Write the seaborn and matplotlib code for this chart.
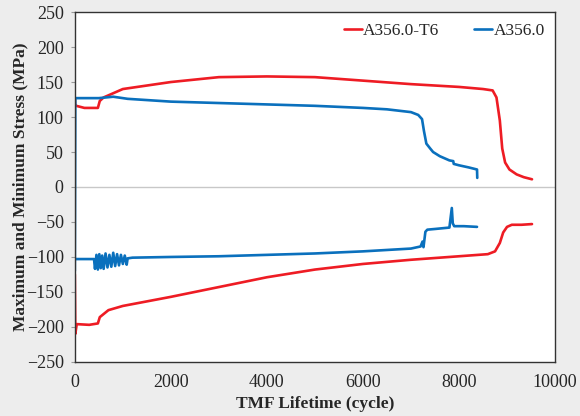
import matplotlib
matplotlib.use("Agg")
import matplotlib.pyplot as plt
import numpy as np
import pandas as pd
import seaborn as sns

# ---- data ----
t6_max_cycle = [0, 5, 30, 200, 480, 520, 600, 1000, 2000, 3000, 4000, 5000, 6000, 7000, 8000,
                8500, 8700, 8780, 8850, 8900, 8960, 9050, 9200, 9350, 9520]
t6_max_stress = [125, 118, 116, 113, 113, 123, 128, 140, 150, 157, 158, 157, 152, 147, 143,
                 140, 138, 128, 95, 55, 35, 25, 18, 14, 11]

t6_min_cycle = [0, 10, 40, 300, 480, 520, 700, 1000, 2000, 3000, 4000, 5000, 6000, 7000, 8000,
                8600, 8750, 8850, 8920, 9000, 9100, 9300, 9520]
t6_min_stress = [-125, -210, -196, -197, -195, -186, -176, -170, -157, -143, -129, -118, -110, -104,
                 -99, -96, -92, -80, -65, -57, -54, -54, -53]

a356_max_cycle = [0, 10, 500, 800, 1100, 2000, 3000, 4000, 5000, 6000, 6500, 7000, 7150, 7230,
                  7270, 7320, 7400, 7460, 7600, 7800, 7880, 7890, 8000, 8200, 8375, 8380]
a356_max_stress = [-120, 127, 127, 129, 126, 122, 120, 118, 116, 113, 111, 107, 103, 97,
                   80, 62, 55, 50, 44, 38, 37, 33, 31, 28, 25, 13]

a356_min_cycle = [0, 10, 400, 420, 450, 480, 510, 540, 570, 600, 640, 680, 720, 760, 800, 840,
                  880, 920, 960, 1000, 1040, 1080, 1100, 1200, 2000, 3000, 4000, 5000, 6000,
                  6500, 7000, 7200, 7240, 7260, 7300, 7340, 7500, 7800, 7850, 7870, 7900, 8100, 8375]
a356_min_stress = [-102, -103, -103, -117, -97, -118, -96, -116, -98, -117, -95, -115, -97, -114,
                   -94, -113, -96, -112, -97, -110, -98, -111, -102, -101, -100, -99, -97, -95, -92,
                   -90, -88, -85, -78, -86, -64, -61, -60, -58, -30, -52, -56, -56, -57]

materials = ["A356.0-T6", "A356.0"]
colors = {"A356.0-T6": "#ee1c24", "A356.0": "#0a70bd"}

rows = []
for mat, kind, cyc, st in [
    ("A356.0-T6", "max", t6_max_cycle, t6_max_stress),
    ("A356.0-T6", "min", t6_min_cycle, t6_min_stress),
    ("A356.0", "max", a356_max_cycle, a356_max_stress),
    ("A356.0", "min", a356_min_cycle, a356_min_stress),
]:
    for c, s in zip(cyc, st):
        rows.append({"cycle": c, "stress": s, "material": mat, "kind": mat + kind})
df = pd.DataFrame(rows)

sns.set_style("white")
plt.rcParams["font.family"] = ["Liberation Serif", "DejaVu Serif"]

fig = plt.figure(figsize=(5.8, 4.16), dpi=100)
fig.patch.set_facecolor("#ededed")
ax = fig.add_axes([0.129, 0.130, 0.828, 0.841])
ax.set_facecolor("white")

ax.axhline(0, color="#c8c8c8", lw=1, zorder=0)
sns.lineplot(data=df, x="cycle", y="stress", hue="material", units="kind", estimator=None,
             sort=False, palette=colors, hue_order=materials, lw=1.9, ax=ax)

ax.set_xlim(0, 10000)
ax.set_ylim(-250, 250)
ax.set_xticks(np.arange(0, 10001, 2000))
ax.set_yticks(np.arange(-250, 251, 50))
ax.tick_params(axis="y", labelsize=13, length=3, width=0.8, color="#999999", pad=5, left=True)
ax.tick_params(axis="x", labelsize=13, length=0, pad=9)
ax.set_xlabel("TMF Lifetime (cycle)", fontsize=12.5, fontweight="bold", labelpad=3)
ax.set_ylabel("Maximum and Minimum Stress (MPa)", fontsize=12.5, fontweight="bold", labelpad=-1)
for sp in ax.spines.values():
    sp.set_visible(True)
    sp.set_color("#333333")
    sp.set_linewidth(1.0)

ax.legend(loc="upper right", ncol=2, frameon=False, fontsize=12.5, handlelength=1.0,
          handletextpad=0.1, columnspacing=2.0, borderaxespad=0.2)

fig.savefig("out.png", dpi=100, facecolor=fig.get_facecolor())
